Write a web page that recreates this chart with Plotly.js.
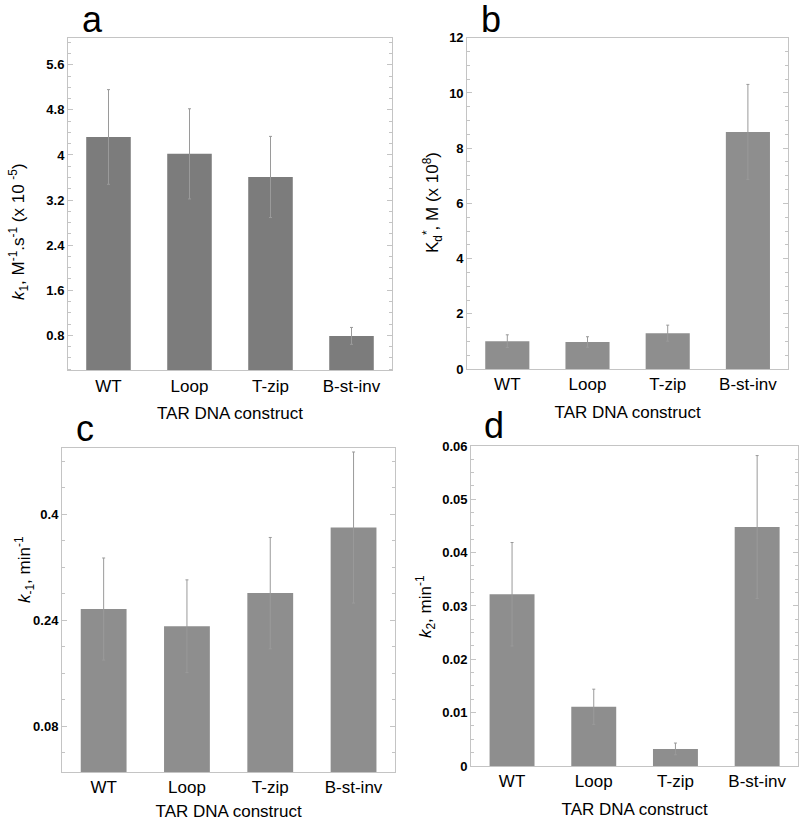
<!DOCTYPE html>
<html>
<head>
<meta charset="utf-8">
<script src="https://cdn.plot.ly/plotly-3.0.1.min.js"></script>
<style>html,body{margin:0;padding:0;background:#fff}#chart{width:800px;height:821px}</style>
</head>
<body>
<div id="chart"></div>
<script>
const categories = ['WT', 'Loop', 'T-zip', 'B-st-inv'];

// panel a: k1 (x 10^-5)
const k1Values = [4.32, 4.02, 3.61, 0.79];
const k1Errors = [0.84, 0.80, 0.72, 0.15];
// panel b: Kd* (x 10^8)
const kdValues = [1.01, 0.98, 1.30, 8.59];
const kdErrors = [0.23, 0.19, 0.29, 1.72];
// panel c: k-1
const kMinus1Values = [0.257, 0.231, 0.281, 0.380];
const kMinus1Errors = [0.077, 0.070, 0.084, 0.114];
// panel d: k2
const k2Values = [0.0322, 0.0111, 0.0032, 0.0448];
const k2Errors = [0.0097, 0.0033, 0.0011, 0.0134];

const xTitle = 'TAR DNA construct';
const yTitles = [
  '<i>k</i><sub>1</sub>, M<sup>-1</sup>.s<sup>-1</sup> (x 10 <sup>-5</sup>)',
  'K<sub>d</sub><sup>*</sup>, M (x 10<sup>8</sup>)',
  '<i>k</i><sub>-1</sub>, min<sup>-1</sup>',
  '<i>k</i><sub>2</sub>, min<sup>-1</sup>'
];
const panelLabels = ['a', 'b', 'c', 'd'];

const FONT = 'Arial, Liberation Sans, sans-serif';

function barTrace(vals, errs, xa, ya, color) {
  return {
    type: 'bar', x: categories, y: vals, xaxis: xa, yaxis: ya,
    width: 0.55,
    marker: {color: color, line: {color: color, width: 0}},
    error_y: {type: 'data', array: errs, visible: true, color: '#9a9a9a', thickness: 1, width: 1.5},
    hoverinfo: 'skip', showlegend: false
  };
}

const frame = '#c4c4c4';
function xax(domain, anchor) {
  return {
    domain: domain, anchor: anchor, type: 'category', range: [-0.5, 3.5],
    showline: true, linecolor: frame, linewidth: 1, mirror: true,
    ticks: '', showgrid: false, zeroline: false,
    tickfont: {family: FONT, size: 17, color: '#000'},
    title: {text: xTitle, font: {family: FONT, size: 17, color: '#000'}, standoff: 12}
  };
}
function yax(domain, anchor, range, dtick, minorDtick) {
  return {
    domain: domain, anchor: anchor, range: range, dtick: dtick, tick0: 0,
    showline: true, linecolor: frame, linewidth: 1, mirror: 'allticks',
    ticks: 'inside', ticklen: 5, tickcolor: frame, tickwidth: 1,
    minor: {dtick: minorDtick, ticks: 'inside', ticklen: 3, tickcolor: frame, showgrid: false},
    showgrid: false, zeroline: false,
    tickfont: {family: FONT, size: 13, color: '#000', weight: 'bold'}
  };
}

const data = [
  barTrace(k1Values, k1Errors, 'x', 'y', '#7c7c7c'),
  barTrace(kdValues, kdErrors, 'x2', 'y2', '#8e8e8e'),
  barTrace(kMinus1Values, kMinus1Errors, 'x3', 'y3', '#8e8e8e'),
  barTrace(k2Values, k2Errors, 'x4', 'y4', '#8e8e8e')
];

function lbl(text, x, y) {
  return {text: text, x: x, y: y, xref: 'paper', yref: 'paper', xanchor: 'left', yanchor: 'bottom',
          showarrow: false, font: {family: FONT, size: 36, color: '#000'}};
}
function ytitle(text, xpx, ypx, size) {
  return {text: text, x: xpx / 800, y: 1 - ypx / 821, xref: 'paper', yref: 'paper',
          xanchor: 'center', yanchor: 'middle', textangle: -90, showarrow: false,
          font: {family: FONT, size: size, color: '#000'}};
}

const layout = {
  width: 800, height: 821,
  margin: {l: 0, r: 0, t: 0, b: 0},
  paper_bgcolor: '#fff', plot_bgcolor: '#fff',
  xaxis: xax([0.085, 0.49], 'y'),
  yaxis: yax([0.549, 0.954], 'x', [0.18, 6.08], 0.8, 0.2),
  xaxis2: xax([0.584, 0.985], 'y2'),
  yaxis2: yax([0.5505, 0.954], 'x2', [0, 12], 2, 0.5),
  xaxis3: xax([0.0775, 0.494], 'y3'),
  yaxis3: yax([0.0597, 0.4543], 'x3', [0.011, 0.5], 0.16, 0.04),
  xaxis4: xax([0.589, 0.9975], 'y4'),
  yaxis4: yax([0.067, 0.4568], 'x4', [0, 0.06], 0.01, 0.0025),
  annotations: [
    lbl(panelLabels[0], 0.100, 0.9486),
    lbl(panelLabels[1], 0.599, 0.9484),
    lbl(panelLabels[2], 0.092, 0.4504),
    lbl(panelLabels[3], 0.602, 0.4541),
    ytitle(yTitles[0], 19, 232, 17),
    ytitle(yTitles[1], 433, 203, 17),
    ytitle(yTitles[2], 24, 570, 17),
    ytitle(yTitles[3], 425, 607, 17)
  ]
};
layout.yaxis3.tick0 = 0.08;

Plotly.newPlot('chart', data, layout, {staticPlot: true, displayModeBar: false});
</script>
</body>
</html>
